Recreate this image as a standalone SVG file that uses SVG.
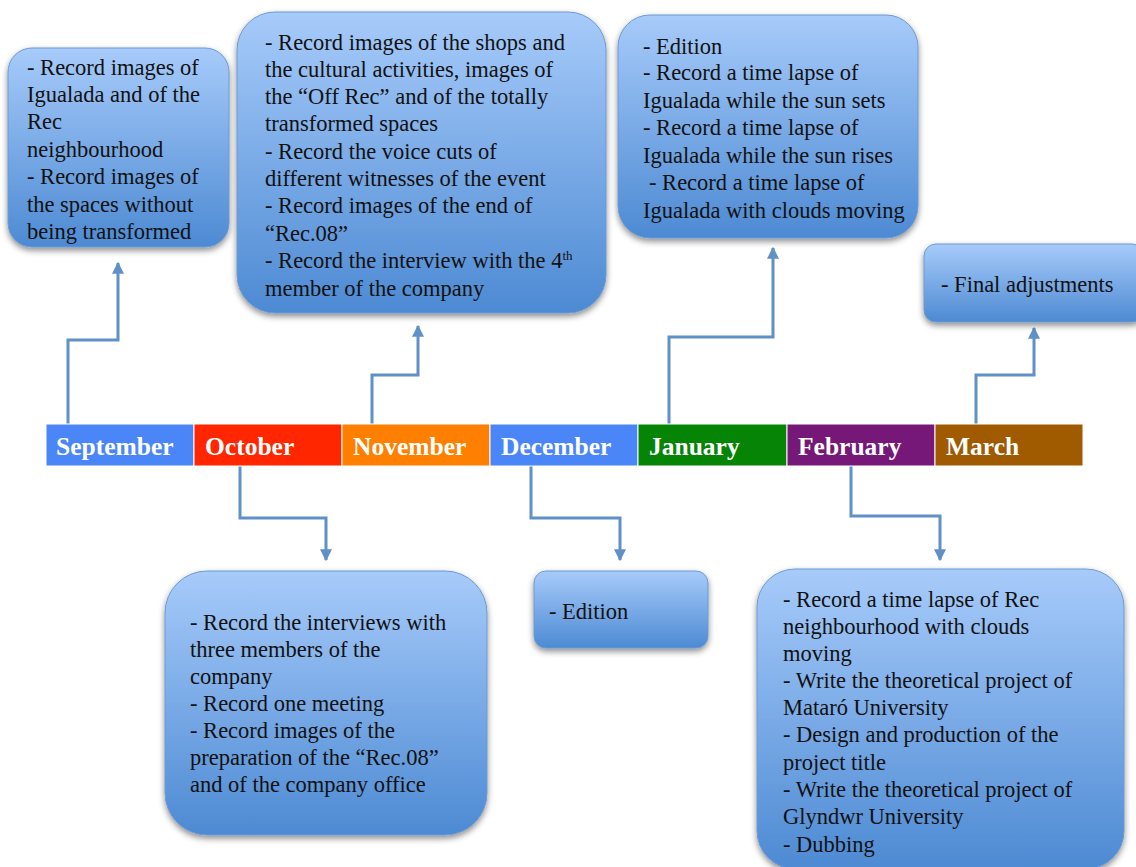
<svg xmlns="http://www.w3.org/2000/svg" width="1136" height="867" viewBox="0 0 1136 867">
<defs>
<linearGradient id="bg" x1="0" y1="0" x2="0" y2="1">
<stop offset="0" stop-color="#a7cbfa"/>
<stop offset="1" stop-color="#4d8ad3"/>
</linearGradient>
<filter id="sh" x="-10%" y="-10%" width="120%" height="125%">
<feDropShadow dx="0" dy="3" stdDeviation="3" flood-color="#000" flood-opacity="0.45"/>
</filter>
<marker id="ah" viewBox="0 0 10 10" refX="9" refY="5" markerWidth="4" markerHeight="4" orient="auto" markerUnits="strokeWidth">
<path d="M0,0 L10,5 L0,10 z" fill="#5f90c8"/>
</marker>
<style>
.box{fill:url(#bg);stroke:#6b9ad2;stroke-width:1;filter:url(#sh)}
.t{font-family:"Liberation Serif","Times New Roman",serif;font-size:22.5px;fill:#111}
.m{font-family:"Liberation Serif","Times New Roman",serif;font-size:25.5px;font-weight:bold;fill:#fff}
.c{fill:none;stroke:#5f90c8;stroke-width:3;marker-end:url(#ah)}
.seg{stroke:#fff;stroke-width:1}
</style>
</defs>
<rect width="1136" height="867" fill="#fff"/>

<g id="connectors">
<path class="c" d="M68,424 V340 H118 V263"/>
<path class="c" d="M372,424 V375 H418 V326"/>
<path class="c" d="M669,424 V337 H773 V248"/>
<path class="c" d="M976,424 V375 H1034 V328"/>
<path class="c" d="M240,466 V518 H326 V560"/>
<path class="c" d="M531,466 V518 H620 V560"/>
<path class="c" d="M851,466 V516 H940 V560"/>
</g>

<g id="timeline">
<g id="sep"><rect class="seg" x="46" y="424" width="148" height="42" fill="#4a86f7"/><text class="m" x="56" y="455">September</text></g>
<g id="oct"><rect class="seg" x="194" y="424" width="148" height="42" fill="#ff2600"/><text class="m" x="205" y="455">October</text></g>
<g id="nov"><rect class="seg" x="342" y="424" width="148" height="42" fill="#ff7f00"/><text class="m" x="353" y="455">November</text></g>
<g id="dec"><rect class="seg" x="490" y="424" width="148" height="42" fill="#4a86f7"/><text class="m" x="501" y="455">December</text></g>
<g id="jan"><rect class="seg" x="638" y="424" width="149" height="42" fill="#058405"/><text class="m" x="649" y="455">January</text></g>
<g id="feb"><rect class="seg" x="787" y="424" width="148" height="42" fill="#761878"/><text class="m" x="798" y="455">February</text></g>
<g id="mar"><rect class="seg" x="935" y="424" width="148" height="42" fill="#a05a00"/><text class="m" x="946" y="455">March</text></g>
</g>

<g id="box-september">
<rect class="box" x="8" y="48" width="221" height="199" rx="24"/>
<text class="t" x="27" y="75">- Record images of</text>
<text class="t" x="27" y="102">Igualada and of the</text>
<text class="t" x="27" y="129">Rec</text>
<text class="t" x="27" y="157">neighbourhood</text>
<text class="t" x="27" y="184">- Record images of</text>
<text class="t" x="27" y="212">the spaces without</text>
<text class="t" x="27" y="239">being transformed</text>
</g>

<g id="box-november">
<rect class="box" x="237" y="12" width="369" height="301" rx="38"/>
<text class="t" x="265" y="50">- Record images of the shops and</text>
<text class="t" x="265" y="77">the cultural activities, images of</text>
<text class="t" x="265" y="104">the “Off Rec” and of the totally</text>
<text class="t" x="265" y="131">transformed spaces</text>
<text class="t" x="265" y="159">- Record the voice cuts of</text>
<text class="t" x="265" y="186">different witnesses of the event</text>
<text class="t" x="265" y="213">- Record images of the end of</text>
<text class="t" x="265" y="241">“Rec.08”</text>
<text class="t" x="265" y="268">- Record the interview with the 4<tspan font-size="13" dy="-8">th</tspan></text>
<text class="t" x="265" y="296">member of the company</text>
</g>

<g id="box-january">
<rect class="box" x="618" y="15" width="300" height="223" rx="32"/>
<text class="t" x="643" y="54">- Edition</text>
<text class="t" x="643" y="80">- Record a time lapse of</text>
<text class="t" x="643" y="108">Igualada while the sun sets</text>
<text class="t" x="643" y="135">- Record a time lapse of</text>
<text class="t" x="643" y="163">Igualada while the sun rises</text>
<text class="t" x="649" y="190">- Record a time lapse of</text>
<text class="t" x="643" y="218">Igualada with clouds moving</text>
</g>

<g id="box-march">
<rect class="box" x="924" y="244" width="220" height="78" rx="12"/>
<text class="t" x="941" y="292">- Final adjustments</text>
</g>

<g id="box-october">
<rect class="box" x="165" y="571" width="322" height="264" rx="42"/>
<text class="t" x="190" y="630">- Record the interviews with</text>
<text class="t" x="190" y="657">three members of the</text>
<text class="t" x="190" y="684">company</text>
<text class="t" x="190" y="711">- Record one meeting</text>
<text class="t" x="190" y="738">- Record images of the</text>
<text class="t" x="190" y="765">preparation of the “Rec.08”</text>
<text class="t" x="190" y="792">and of the company office</text>
</g>

<g id="box-december">
<rect class="box" x="534" y="571" width="174" height="77" rx="12"/>
<text class="t" x="549" y="619">- Edition</text>
</g>

<g id="box-february">
<rect class="box" x="757" y="569" width="367" height="300" rx="38"/>
<text class="t" x="783" y="607">- Record a time lapse of Rec</text>
<text class="t" x="783" y="634">neighbourhood with clouds</text>
<text class="t" x="783" y="661">moving</text>
<text class="t" x="783" y="688">- Write the theoretical project of</text>
<text class="t" x="783" y="715">Mataró University</text>
<text class="t" x="783" y="742">- Design and production of the</text>
<text class="t" x="783" y="770">project title</text>
<text class="t" x="783" y="797">- Write the theoretical project of</text>
<text class="t" x="783" y="824">Glyndwr University</text>
<text class="t" x="783" y="852">- Dubbing</text>
</g>
</svg>
